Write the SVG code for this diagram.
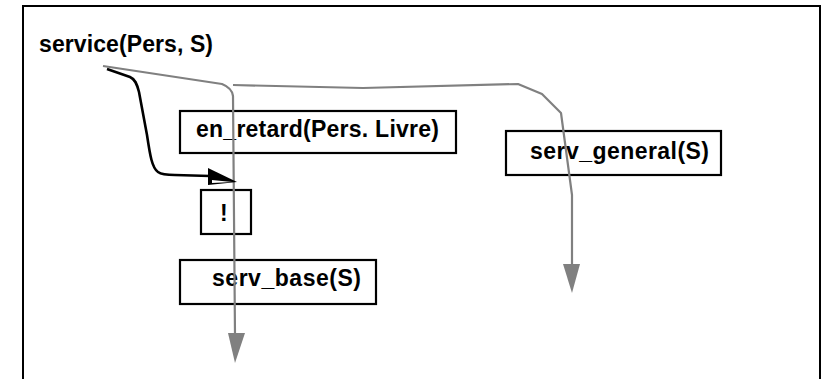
<svg xmlns="http://www.w3.org/2000/svg" width="827" height="379" viewBox="0 0 827 379">
  <style>
    .frame { fill: none; stroke: #000; stroke-width: 2; }
    .box { fill: #fff; stroke: #000; stroke-width: 2.2; }
    .lbl { font-family: "Liberation Sans", Arial, sans-serif; font-weight: bold; font-size: 23px; fill: #000; }
    .flow { fill: none; stroke: #808080; stroke-width: 2.2; stroke-linejoin: round; }
    .ctrl { fill: none; stroke: #000; stroke-width: 2.6; stroke-linejoin: round; }
    .gtip { fill: #808080; }
  </style>

  <rect width="827" height="379" fill="#fff"/>

  <!-- outer clause frame, open at the bottom -->
  <path class="frame" d="M23,379 L23,6 L820,6 L820,379"/>

  <g id="head">
    <text class="lbl" x="39" y="52" textLength="174" lengthAdjust="spacing">service(Pers, S)</text>
  </g>

  <g id="en_retard">
    <rect class="box" x="180" y="111" width="276" height="42"/>
    <text class="lbl" x="196" y="137" textLength="243" lengthAdjust="spacing">en_retard(Pers. Livre)</text>
  </g>

  <g id="cut">
    <rect class="box" x="201" y="190" width="50" height="44"/>
    <text class="lbl" x="220" y="221">!</text>
  </g>

  <g id="serv_base">
    <rect class="box" x="180" y="260" width="196" height="44"/>
    <text class="lbl" x="212" y="286" textLength="149" lengthAdjust="spacing">serv_base(S)</text>
  </g>

  <g id="serv_general">
    <rect class="box" x="506" y="131" width="215" height="44"/>
    <text class="lbl" x="530" y="159" textLength="179" lengthAdjust="spacing">serv_general(S)</text>
  </g>

  <g id="connectors">
    <!-- first clause path -->
    <path class="flow" d="M103,66 L222,84 Q232,88 233,96 L235,335"/>
    <polygon class="gtip" points="228,333 245,333 235,363"/>
    <!-- second clause path -->
    <path class="flow" d="M233,85 L363,88 L518,84 L542,94 L561,113 L572,195 L572,266"/>
    <polygon class="gtip" points="563,264 580,264 572,293"/>
    <!-- cut control arrow -->
    <path class="ctrl" d="M107,69 L130,77 C135,79 137,84 139,92 L147,135 C150,155 152,168 158,172 C162,175 168,175 175,175 L210,176"/>
    <polygon points="208,168 237,182 208,185" fill="#000"/>
    <polygon points="212,180 232,182 212,183" fill="#fff"/>
  </g>
</svg>
